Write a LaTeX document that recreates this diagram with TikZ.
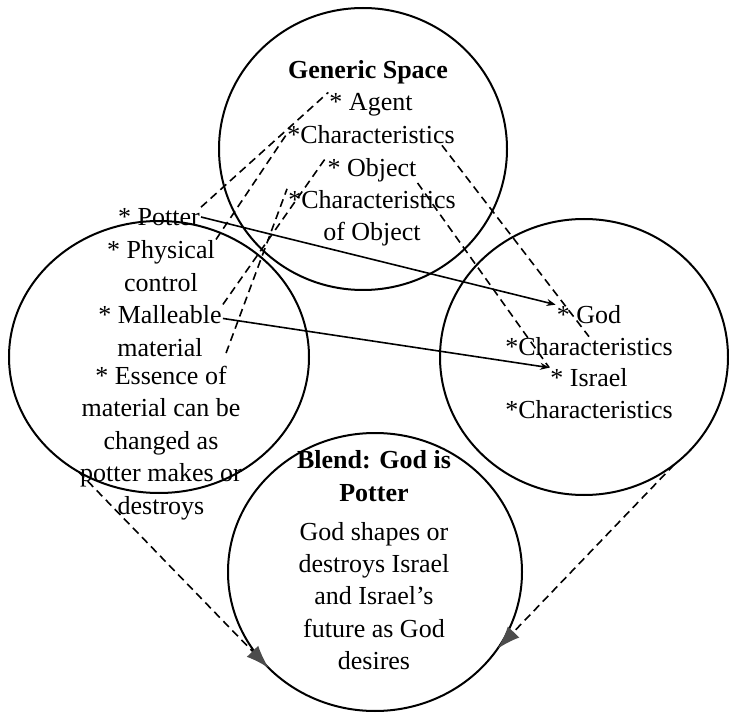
\documentclass[tikz,border=0pt]{standalone}
\usepackage{fontspec}
\setmainfont{Liberation Serif}
\usetikzlibrary{arrows.meta,shapes.geometric}

\begin{document}
\begin{tikzpicture}[x=1pt,y=-1pt,
  space/.style={draw,ellipse,line width=2pt,inner sep=0pt,outer sep=0pt},
  item/.style={align=center,inner sep=1pt,font=\fontsize{26}{32.4}\selectfont},
  head/.style={align=center,inner sep=1pt,font=\fontsize{26}{32.4}\selectfont\bfseries},
  map/.style={line width=1.6pt,dash pattern=on 8pt off 5pt},
  link/.style={line width=1.6pt,-{Stealth[length=9pt,width=7pt]}},
  proj/.style={map,-{Latex[length=23pt,width=16pt,color=black!70]}}]
  \useasboundingbox (0,0) rectangle (729,714);
  \node[space,minimum width=288pt,minimum height=282pt] (gsp) at (363,149) {};
  \node[space,minimum width=300pt,minimum height=272pt] (inleft) at (159,357) {};
  \node[space,minimum width=288pt,minimum height=276pt] (inright) at (584,357) {};
  \node[space,minimum width=294pt,minimum height=278pt] (blend) at (375,572) {};
  \node[head] (gtitle) at (368,72) {Generic Space};
  \node[item] (agent) at (371,105) {* Agent};
  \node[item] (gchar) at (371,135) {*Characteristics};
  \node[item] (gobj) at (372,170) {* Object};
  \node[item] (gobjchar) at (372,218) {*Characteristics\\of Object};
  \node[item] (potter) at (159,217) {* Potter};
  \node[item] (physical) at (161,266) {* Physical\\control};
  \node[item] (malleable) at (160,331) {* Malleable\\material};
  \node[item] (essence) at (161,443) {* Essence of\\material can be\\changed as\\potter makes or\\destroys};
  \node[item] (god) at (589,315) {* God};
  \node[item] (godchar) at (589,347) {*Characteristics};
  \node[item] (israel) at (589,378) {* Israel};
  \node[item] (isrchar) at (589,410) {*Characteristics};
  \node[head] (btitle) at (374,476) {Blend: God is\\Potter};
  \node[item] (bbody) at (374,596) {God shapes or\\destroys Israel\\and Israel’s\\future as God\\desires};
  \draw[map] (potter.north east) -- (agent.north west);
  \draw[map] (physical.north east) -- (gchar.west);
  \draw[map] (malleable.north east) -- (gobj.north west);
  \draw[map] ([shift={(-17,-12)}]essence.north east) -- (gobjchar.north west);
  \draw[map] ([xshift=-14pt]gchar.south east) -- (godchar.north);
  \draw[map] (gobj.south east) -- (israel.north west);
  \draw[link] (potter.east) -- (god.north west);
  \draw[link] ([yshift=-14pt]malleable.north east) -- (israel.north west);
  \draw[proj] (inleft.235) -- (blend.222);
  \draw[proj] (inright.310) -- (blend.328);
\end{tikzpicture}
\end{document}
